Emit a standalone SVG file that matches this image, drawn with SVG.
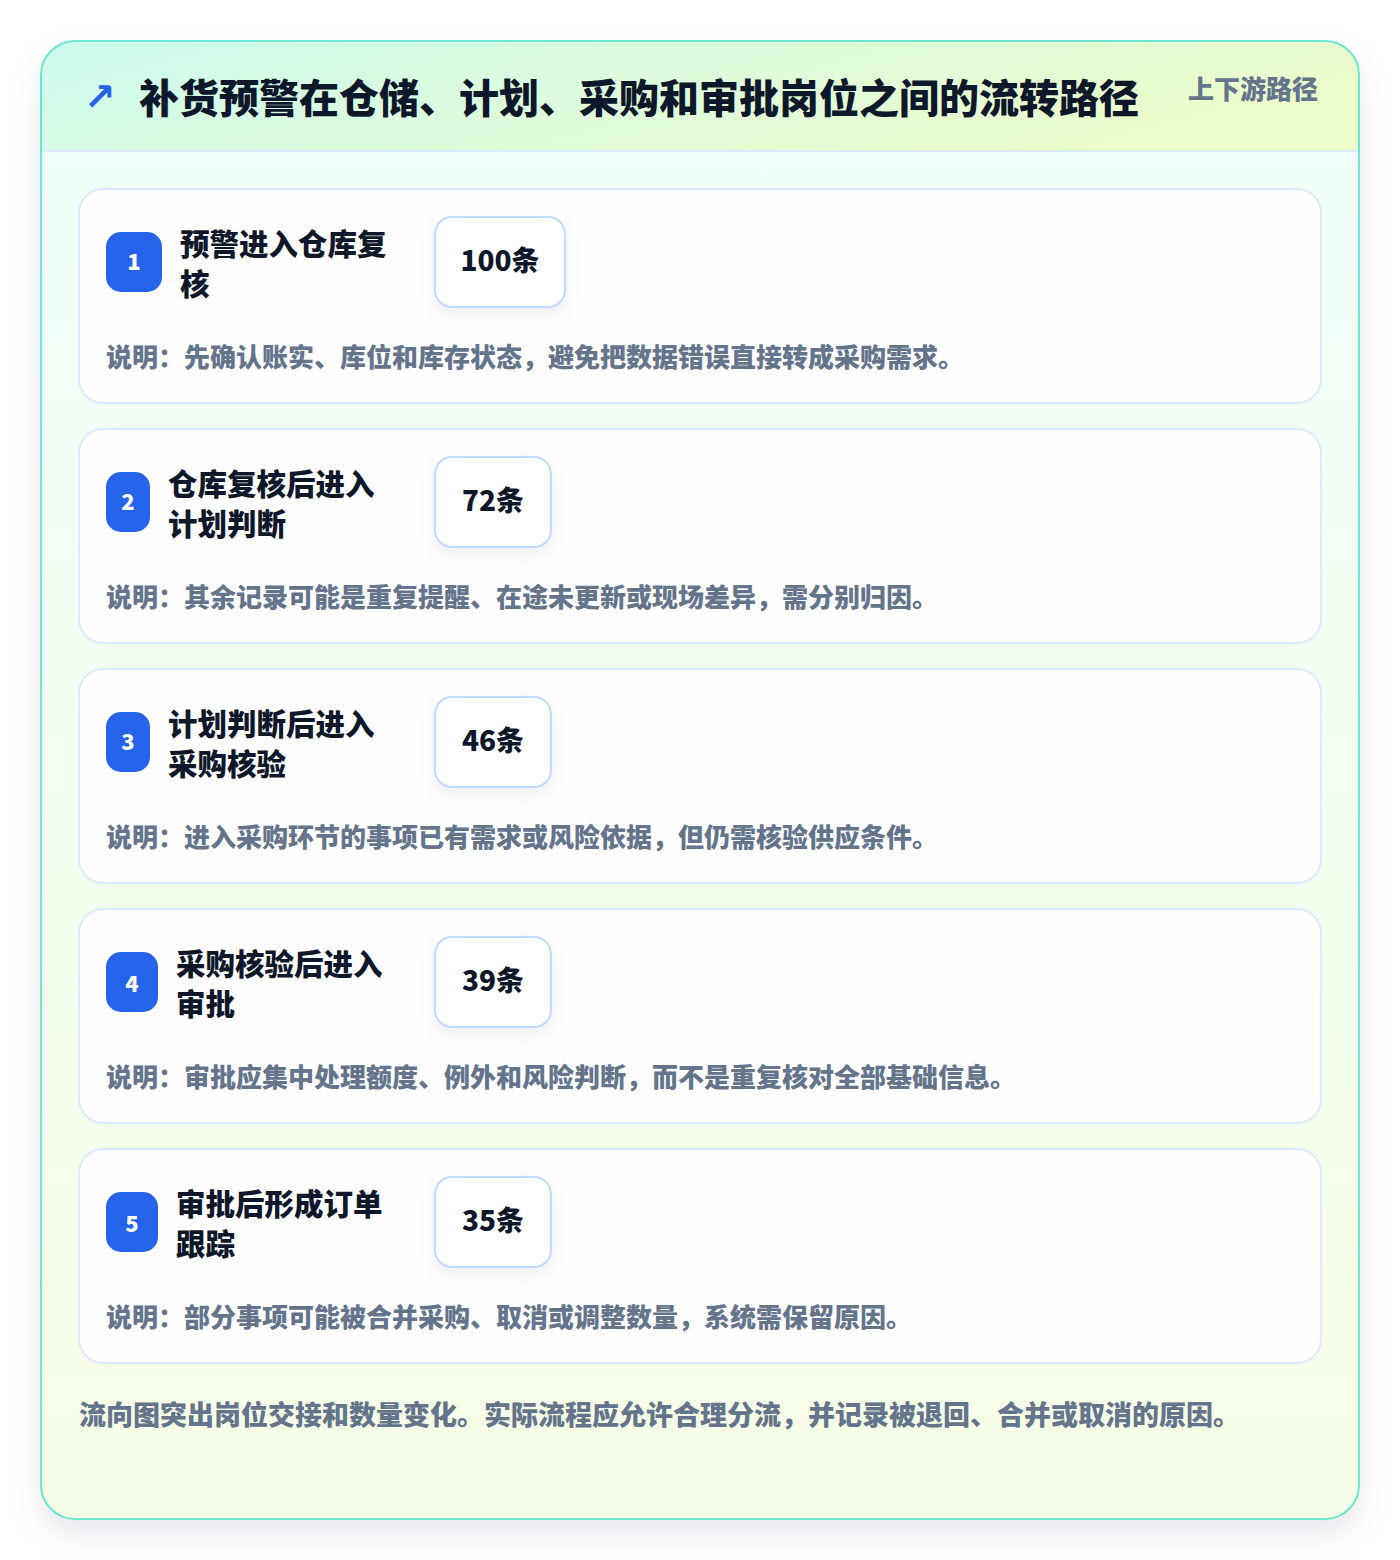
<svg xmlns="http://www.w3.org/2000/svg" width="1400" height="1560" viewBox="0 0 1400 1560">
<defs>
  <linearGradient id="hdr" x1="0" y1="0" x2="1" y2="0.3">
    <stop offset="0" stop-color="#ccfbef"/>
    <stop offset="1" stop-color="#ecfccb"/>
  </linearGradient>
  <linearGradient id="body" x1="0" y1="0" x2="0" y2="1">
    <stop offset="0" stop-color="#effdf9"/>
    <stop offset="1" stop-color="#f6fde6"/>
  </linearGradient>
  <filter id="sh" x="-10%" y="-10%" width="120%" height="120%">
    <feDropShadow dx="0" dy="14" stdDeviation="16" flood-color="#0f172a" flood-opacity="0.10"/>
  </filter>
  <filter id="sh2" x="-30%" y="-30%" width="160%" height="170%">
    <feDropShadow dx="0" dy="6" stdDeviation="8" flood-color="#0f172a" flood-opacity="0.07"/>
  </filter>
  <clipPath id="cardclip"><rect x="41" y="41" width="1318" height="1478" rx="34"/></clipPath>
</defs>
<style>
  text { font-family: "Noto Sans CJK SC", "Noto Sans", sans-serif; font-weight: 900; dominant-baseline: central; }
  .card { fill: #fdfefd; stroke: #dbeafe; stroke-width: 2; }
  .badge { fill: #2563eb; }
  .bnum { fill: #ffffff; font-size: 22px; text-anchor: middle; }
  .ttl { fill: #0f172a; font-size: 29.5px; }
  .cnt { fill: #ffffff; stroke: #bfdbfe; stroke-width: 2; }
  .cnum { fill: #0f172a; font-size: 28px; text-anchor: middle; }
  .desc { fill: #64748b; font-size: 26px; }
</style>
<rect width="1400" height="1560" fill="#ffffff"/>
<g id="frame">
  <rect x="41" y="41" width="1318" height="1478" rx="34" fill="url(#body)" filter="url(#sh)"/>
  <rect x="42" y="42" width="1316" height="109" fill="url(#hdr)" clip-path="url(#cardclip)"/>
  <line x1="42" y1="151" x2="1358" y2="151" stroke="#dbeafe" stroke-width="2"/>
  <rect x="41" y="41" width="1318" height="1478" rx="34" fill="none" stroke="#6ee7d2" stroke-width="2"/>
</g>
<g id="header">
  <text x="84" y="97" fill="#2563eb" style="font-family:'DejaVu Sans',sans-serif;font-size:38px;font-weight:700">↗</text>
  <text x="139" y="96" fill="#0f172a" style="font-size:40px">补货预警在仓储、计划、采购和审批岗位之间的流转路径</text>
  <text x="1188" y="87" fill="#64748b" style="font-size:26px">上下游路径</text>
</g>
<g id="connectors"/>
<g id="step1">
  <rect class="card" x="79" y="189" width="1242" height="214" rx="24"/>
  <rect class="badge" x="106" y="232" width="56" height="60" rx="15"/>
  <text class="bnum" x="134" y="260">1</text>
  <text class="ttl" x="180" y="242">预警进入仓库复</text>
  <text class="ttl" x="180" y="282">核</text>
  <rect class="cnt" x="435" y="217" width="130" height="90" rx="17" filter="url(#sh2)"/>
  <text class="cnum" x="500" y="259">100条</text>
  <text class="desc" x="106" y="355">说明：先确认账实、库位和库存状态，避免把数据错误直接转成采购需求。</text>
</g>
<g id="step2">
  <rect class="card" x="79" y="429" width="1242" height="214" rx="24"/>
  <rect class="badge" x="106" y="472" width="44" height="60" rx="15"/>
  <text class="bnum" x="128" y="500">2</text>
  <text class="ttl" x="168" y="482">仓库复核后进入</text>
  <text class="ttl" x="168" y="522">计划判断</text>
  <rect class="cnt" x="435" y="457" width="116" height="90" rx="17" filter="url(#sh2)"/>
  <text class="cnum" x="493" y="499">72条</text>
  <text class="desc" x="106" y="595">说明：其余记录可能是重复提醒、在途未更新或现场差异，需分别归因。</text>
</g>
<g id="step3">
  <rect class="card" x="79" y="669" width="1242" height="214" rx="24"/>
  <rect class="badge" x="106" y="712" width="44" height="60" rx="15"/>
  <text class="bnum" x="128" y="740">3</text>
  <text class="ttl" x="168" y="722">计划判断后进入</text>
  <text class="ttl" x="168" y="762">采购核验</text>
  <rect class="cnt" x="435" y="697" width="116" height="90" rx="17" filter="url(#sh2)"/>
  <text class="cnum" x="493" y="739">46条</text>
  <text class="desc" x="106" y="835">说明：进入采购环节的事项已有需求或风险依据，但仍需核验供应条件。</text>
</g>
<g id="step4">
  <rect class="card" x="79" y="909" width="1242" height="214" rx="24"/>
  <rect class="badge" x="106" y="952" width="52" height="60" rx="15"/>
  <text class="bnum" x="132" y="982">4</text>
  <text class="ttl" x="176" y="962">采购核验后进入</text>
  <text class="ttl" x="176" y="1002">审批</text>
  <rect class="cnt" x="435" y="937" width="116" height="90" rx="17" filter="url(#sh2)"/>
  <text class="cnum" x="493" y="979">39条</text>
  <text class="desc" x="106" y="1075">说明：审批应集中处理额度、例外和风险判断，而不是重复核对全部基础信息。</text>
</g>
<g id="step5">
  <rect class="card" x="79" y="1149" width="1242" height="214" rx="24"/>
  <rect class="badge" x="106" y="1192" width="52" height="60" rx="15"/>
  <text class="bnum" x="132" y="1222">5</text>
  <text class="ttl" x="176" y="1202">审批后形成订单</text>
  <text class="ttl" x="176" y="1242">跟踪</text>
  <rect class="cnt" x="435" y="1177" width="116" height="90" rx="17" filter="url(#sh2)"/>
  <text class="cnum" x="493" y="1219">35条</text>
  <text class="desc" x="106" y="1315">说明：部分事项可能被合并采购、取消或调整数量，系统需保留原因。</text>
</g>
<g id="footer">
  <text x="79" y="1413" fill="#64748b" style="font-size:27px">流向图突出岗位交接和数量变化。实际流程应允许合理分流，并记录被退回、合并或取消的原因。</text>
</g>
</svg>
